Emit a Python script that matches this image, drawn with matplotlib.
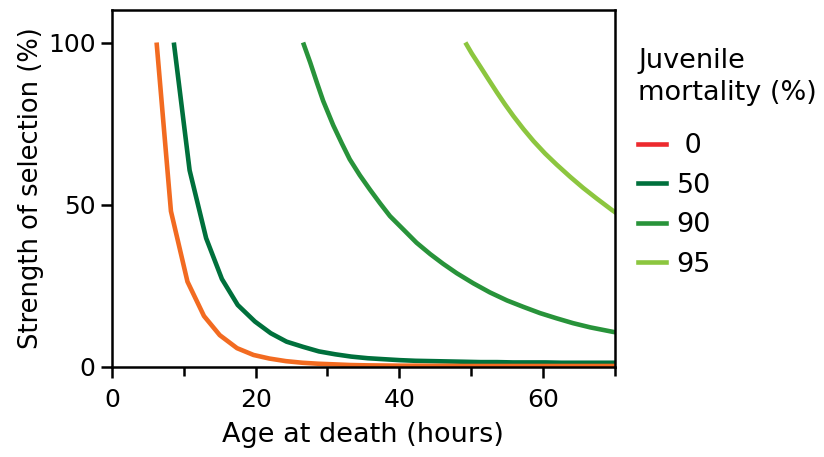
import matplotlib.pyplot as plt
from matplotlib.lines import Line2D
from matplotlib.ticker import MultipleLocator

# values
hours_0 = [6.2, 8.2, 10.5, 12.8, 15.0, 17.4, 19.7, 21.9, 24.2, 26.5, 28.7, 31.0,
           33.2, 35.5, 37.7, 40.0, 42.2, 44.5, 46.7, 49.0, 51.2, 53.5, 55.7,
           58.0, 60.2, 62.5, 64.7, 67.0, 69.2, 71.5]
sel_0 = [100, 48.0, 26.3, 15.7, 9.8, 5.8, 3.7, 2.6, 1.8, 1.3, 1.0, 0.8,
         0.6, 0.5, 0.45, 0.4, 0.4, 0.35, 0.35, 0.3, 0.3, 0.3, 0.3,
         0.3, 0.3, 0.3, 0.3, 0.3, 0.3, 0.3]

hours_50 = [8.6, 10.8, 13.1, 15.3, 17.5, 19.9, 22.1, 24.3, 26.6, 28.8, 31.1,
            33.3, 35.6, 37.8, 40.1, 42.3, 44.6, 46.8, 49.1, 51.3, 53.6, 55.8,
            58.1, 60.3, 62.6, 64.8, 67.1, 69.3, 71.6]
sel_50 = [100, 60.6, 39.7, 27.1, 19.1, 14.0, 10.4, 7.8, 6.2, 4.8, 3.9,
          3.2, 2.7, 2.4, 2.1, 1.9, 1.8, 1.7, 1.6, 1.5, 1.5, 1.4,
          1.4, 1.4, 1.3, 1.3, 1.3, 1.3, 1.3]

hours_90 = [26.6, 27.6, 28.5, 29.4, 30.8, 32.0, 33.1, 34.5, 35.9, 37.3, 38.7,
            40.6, 42.4, 44.3, 46.1, 48.0, 50.3, 52.6, 55.0, 57.3, 59.6, 61.9,
            64.2, 66.6, 69.8, 70.5]
sel_90 = [100, 93.8, 87.8, 82.0, 74.5, 68.9, 64.0, 59.1, 54.7, 50.5, 46.5,
          42.3, 38.3, 34.8, 31.8, 28.9, 25.8, 23.0, 20.5, 18.5, 16.6, 15.0,
          13.5, 12.2, 10.8, 10.6]

hours_95 = [49.2, 50.1, 51.3, 52.4, 53.6, 54.7, 55.9, 57.3, 58.7, 60.3, 61.9,
            63.8, 65.6, 67.5, 69.6, 70.5]
sel_95 = [100, 96.6, 92.5, 88.7, 84.6, 81.0, 77.3, 73.3, 69.6, 65.8, 62.4,
          58.6, 55.2, 51.9, 48.4, 47.0]

labels = [" 0", "50", "90", "95"]
legend_colors = ["#ed2a2e", "#00703c", "#28933a", "#8cc63f"]

plt.rcParams["font.family"] = "DejaVu Sans"
plt.rcParams["font.size"] = 18

fig = plt.figure(figsize=(8.24, 4.57), dpi=100)
ax = fig.add_axes([0.136, 0.197, 0.61, 0.781])

lw = 3.3
ax.plot(hours_95, sel_95, color="#8cc63f", lw=lw, solid_capstyle="butt")
ax.plot(hours_90, sel_90, color="#28933a", lw=lw, solid_capstyle="butt")
ax.plot(hours_50, sel_50, color="#00703c", lw=lw, solid_capstyle="butt")
ax.plot(hours_0, sel_0, color="#f26b21", lw=lw, solid_capstyle="butt")

ax.set_xlim(0, 70)
ax.set_ylim(0, 110)
ax.set_xticks([0, 20, 40, 60])
ax.xaxis.set_minor_locator(MultipleLocator(10))
ax.set_yticks([0, 50, 100])

for s in ax.spines.values():
    s.set_linewidth(1.8)
ax.tick_params(which="major", direction="out", length=8, width=1.8, pad=4)
ax.tick_params(axis="x", which="major", pad=7)
ax.tick_params(which="minor", direction="out", length=6.5, width=1.8)

ax.set_xlabel("Age at death (hours)", fontsize=19.5, labelpad=7)
ax.set_ylabel("Strength of selection (%)", fontsize=18.5, labelpad=3)

fig.text(638 / 824, 1 - 77 / 457, "Juvenile\nmortality (%)", fontsize=19.5,
         ha="left", va="center", linespacing=1.25)

handles = [Line2D([0], [0], color=c, lw=lw) for c in legend_colors]
ax.legend(handles, labels, loc="upper left",
          bbox_to_anchor=(638 / 824, 1 - 133 / 457),
          bbox_transform=fig.transFigure, fontsize=19.5,
          frameon=False, handlelength=1.05, handletextpad=0.37,
          labelspacing=0.5, borderaxespad=0, borderpad=0)

fig.savefig("out.png", dpi=100)
